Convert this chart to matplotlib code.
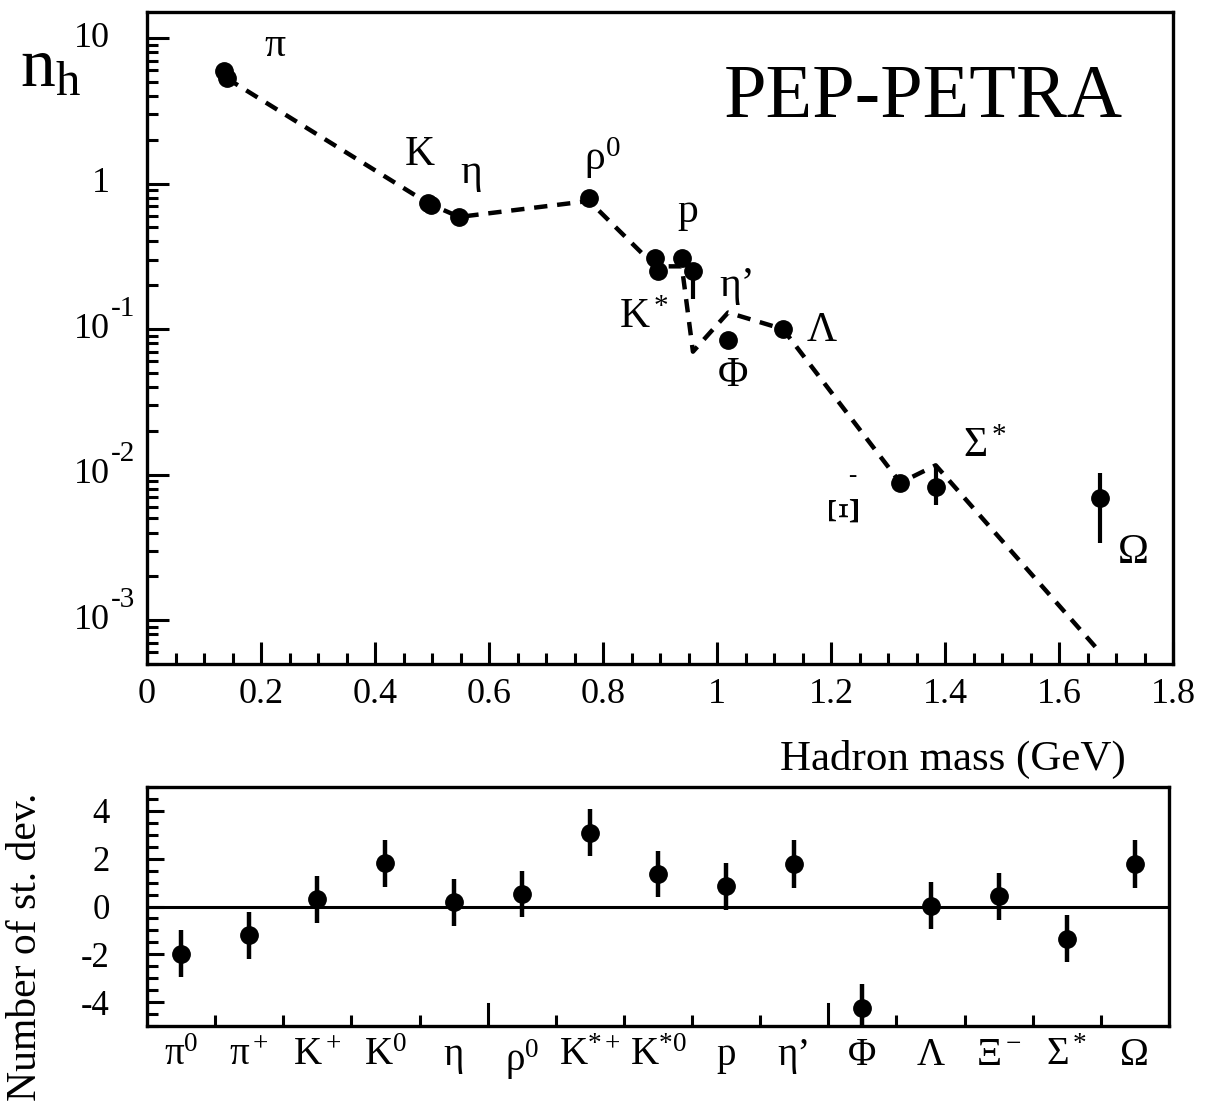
import numpy as np
import matplotlib
matplotlib.use('Agg')
import matplotlib.pyplot as plt
from matplotlib.ticker import FixedLocator, MultipleLocator, NullFormatter, LogLocator
from matplotlib.transforms import blended_transform_factory

plt.rcParams['font.family'] = ['Liberation Serif', 'DejaVu Serif']
plt.rcParams['mathtext.fontset'] = 'custom'
plt.rcParams['mathtext.rm'] = 'Liberation Serif'
plt.rcParams['mathtext.it'] = 'Liberation Serif:italic'

# top panel: measured multiplicities vs hadron mass
mass = [0.135, 0.1396, 0.4937, 0.4976, 0.5479, 0.7755, 0.8917, 0.8959, 0.9383,
        0.9578, 1.0195, 1.1157, 1.3217, 1.3837, 1.6725]
n_h = [5.9, 5.3, 0.74, 0.71, 0.59, 0.79, 0.31, 0.25, 0.31,
       0.25, 0.084, 0.10, 0.0087, 0.0082, 0.0069]
err_lo = [0, 0, 0, 0, 0, 0, 0, 0, 0, 0.09, 0, 0, 0, 0.002, 0.0035]
err_hi = [0, 0, 0, 0, 0, 0, 0, 0, 0, 0.03, 0, 0, 0, 0.0034, 0.0033]

# model curve (dashed)
model_mass = [0.1396, 0.4937, 0.5479, 0.7755, 0.8917, 0.9383, 0.9578, 1.0195,
              1.1157, 1.3217, 1.3837, 1.6725]
model_n = [5.3, 0.73, 0.59, 0.76, 0.27, 0.27, 0.07, 0.13, 0.10, 0.0088, 0.0116, 0.0006]

ytick_vals = [10, 1, 1e-1, 1e-2, 1e-3]
ytick_exp = ['', '', '-1', '-2', '-3']

# bottom panel: deviations
cats = ['π$^0$', 'π$^+$', 'K$^+$', 'K$^0$', 'η', 'ρ$^0$', 'K$^{*+}$', 'K$^{*0}$', 'p',
        'η’', 'Φ', 'Λ', 'Ξ$^-$', 'Σ$^*$', 'Ω']
dev = [-1.97, -1.2, 0.3, 1.8, 0.18, 0.52, 3.09, 1.35, 0.84, 1.79, -4.26, 0.04, 0.43, -1.34, 1.77]
dev_err = [0.98, 0.98, 0.98, 1.0, 0.98, 0.97, 0.99, 0.97, 0.97, 1.01, 1.0, 0.99, 0.98, 0.98, 1.0]

W, H = 1209, 1113
fig = plt.figure(figsize=(W / 100, H / 100), dpi=100)

ax = fig.add_axes([147 / W, 1 - 664 / H, 1026 / W, 652 / H])
ax.set_yscale('log')
ax.plot(model_mass, model_n, color='black', lw=3.2, ls=(0, (3, 2.2)))
ax.errorbar(mass, n_h, yerr=[err_lo, err_hi], fmt='o', color='black', ms=12.5,
            elinewidth=3, capsize=0)
ax.set_xlim(0, 1.8)
ax.set_ylim(5.0e-4, 15.1)

for s in ax.spines.values():
    s.set_linewidth(2.4)
ax.tick_params(which='both', direction='in', top=False, right=False, width=2.2,
               labelsize=26, colors='black')
ax.tick_params(which='major', length=16)
ax.tick_params(which='minor', length=8)
ax.tick_params(axis='x', pad=10)
ax.set_xticks(np.arange(0, 1.81, 0.2))
ax.set_xticklabels(['0', '0.2', '0.4', '0.6', '0.8', '1', '1.2', '1.4', '1.6', '1.8'])
ax.xaxis.set_minor_locator(MultipleLocator(0.05))
ax.yaxis.set_major_locator(FixedLocator(ytick_vals))
ax.yaxis.set_major_formatter(NullFormatter())
ax.yaxis.set_minor_locator(LogLocator(base=10, subs=np.arange(2, 10)))
ax.yaxis.set_minor_formatter(NullFormatter())

# y tick labels: base number right aligned, exponent hanging to the right
tr = blended_transform_factory(fig.transFigure, ax.transData)
for v, e in zip(ytick_vals, ytick_exp):
    base = '1' if v == 1 else '10'
    fig.text(110 / W, v, base, transform=tr, fontsize=26, ha='right', va='center')
    if e:
        fig.text(111 / W, v * 1.38, e, transform=tr, fontsize=21, ha='left', va='center')

ax.set_xlabel('Hadron mass (GeV)', fontsize=31)
ax.xaxis.set_label_coords(0.785, -0.117)
fig.text(20 / W, 1 - 70 / H, 'n$_\\mathrm{h}$', fontsize=50, va='center', ha='left')
ax.text(0.757, 0.868, 'PEP-PETRA', transform=ax.transAxes, fontsize=55,
        ha='center', va='center')

lab = dict(fontsize=30, ha='center', va='center')
ax.text(0.225, 8.9, 'π', **lab)
ax.text(0.479, 1.57, 'K', **lab)
ax.text(0.568, 1.18, 'η', **lab)
ax.text(0.798, 1.5, 'ρ$^0$', **lab)
ax.text(0.949, 0.64, 'p', **lab)
ax.text(0.872, 0.119, 'K$^*$', **lab)
ax.text(1.035, 0.2, 'η’', **lab)
ax.text(1.028, 0.048, 'Φ', **lab)
ax.text(1.184, 0.098, 'Λ', **lab)
ax.text(1.470, 0.0155, 'Σ$^*$', **lab)
ax.text(1.225, 0.0059, 'Ξ', rotation=90, fontsize=32, ha='center', va='center')
ax.text(1.238, 0.0098, '-', fontsize=18, ha='center', va='center')
ax.text(1.73, 0.0029, 'Ω', **lab)

# bottom panel
bx = fig.add_axes([147 / W, 1 - 1026 / H, 1022 / W, 239 / H])
xpos = np.arange(len(cats)) + 0.5
bx.errorbar(xpos, dev, yerr=dev_err, fmt='o', color='black', ms=12.5,
            elinewidth=3.2, capsize=0)
bx.axhline(0, color='black', lw=2.2)
bx.set_xlim(0, len(cats))
bx.set_ylim(-5, 5)
for s in bx.spines.values():
    s.set_linewidth(2.4)
bx.tick_params(which='both', direction='in', top=False, right=False, width=2.2,
               colors='black')
bx.set_xticks(xpos)
bx.set_xticklabels(cats, fontsize=28)
bx.tick_params(axis='x', which='major', length=0, pad=8)
bx.xaxis.set_minor_locator(FixedLocator([i for i in range(1, len(cats)) if i % 5 != 0]))
bx.tick_params(axis='x', which='minor', length=8)
for xv in (5, 10):
    bx.plot([xv, xv], [-5, -4.1], color='black', lw=2.2)
bx.set_yticks([-4, -2, 0, 2, 4])
bx.set_yticklabels(['-4', '-2', '0', '2', '4'], fontsize=25)
bx.yaxis.set_minor_locator(MultipleLocator(0.5))
bx.tick_params(axis='y', which='major', length=12, pad=27)
bx.tick_params(axis='y', which='minor', length=8)
bx.set_ylabel('Number of st. dev.', fontsize=30)
bx.yaxis.set_label_coords(-0.1, 0.33)

fig.savefig('out.png', dpi=100)
